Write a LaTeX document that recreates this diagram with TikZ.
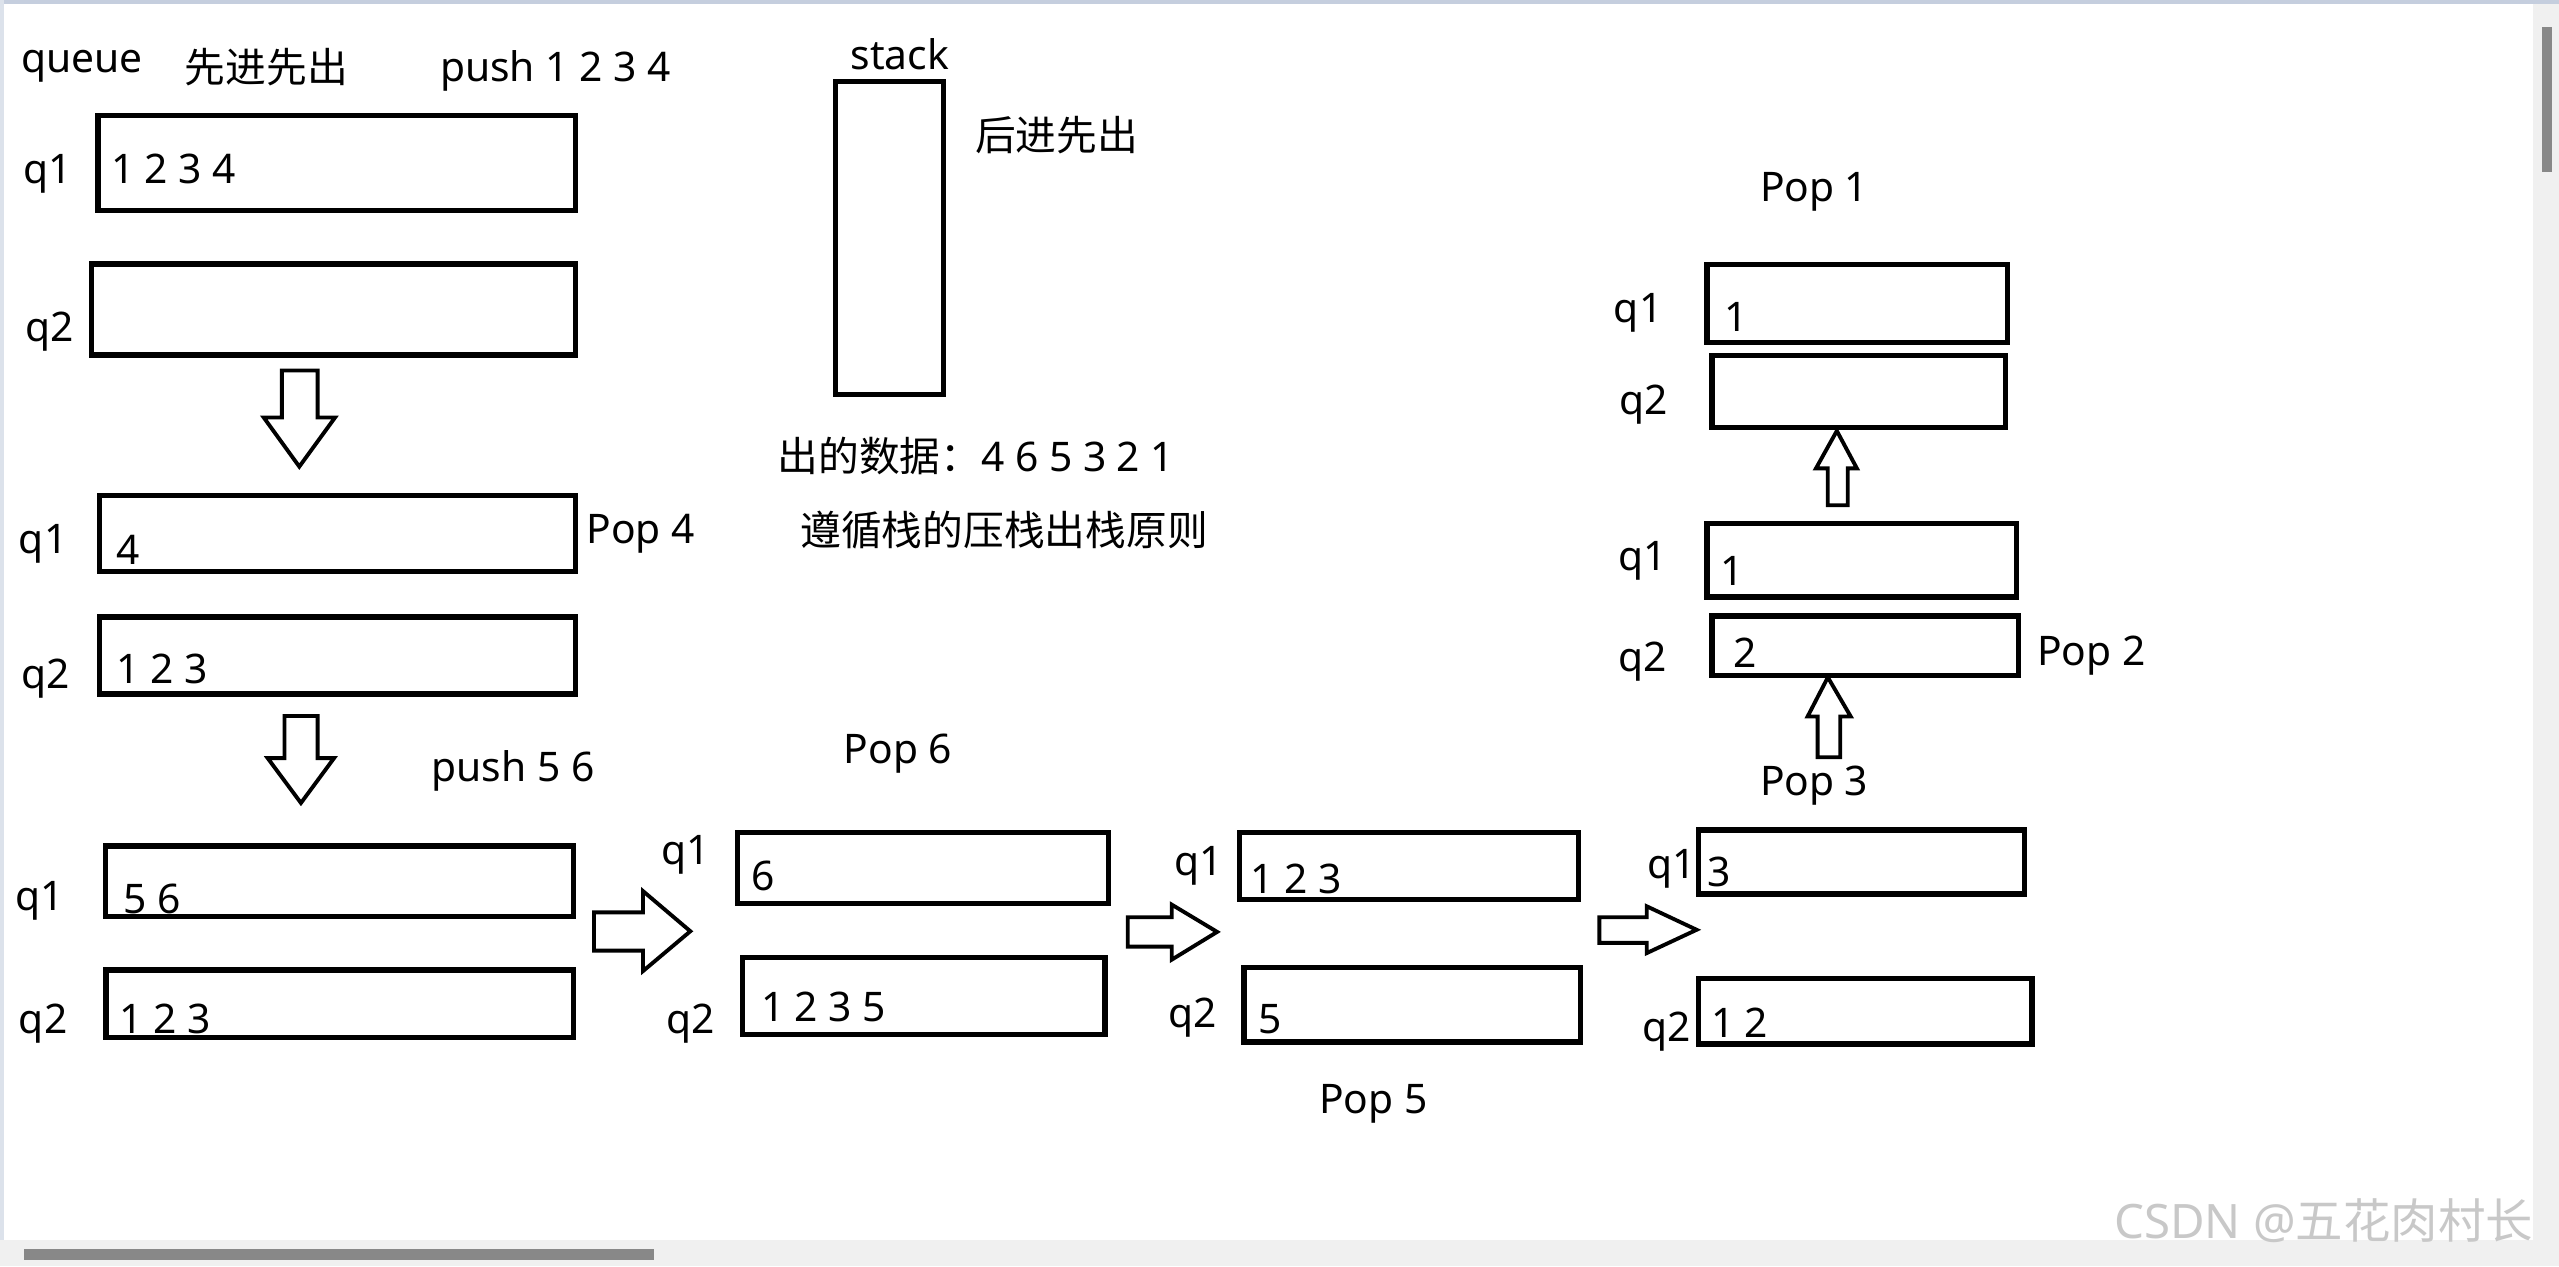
\documentclass[tikz,border=0pt]{standalone}
\usepackage{fontspec}
\setmainfont{Noto Sans}
\newfontfamily\cjk{Noto Sans CJK SC}
\usetikzlibrary{fit}
\definecolor{framegray}{HTML}{F0F0F0}
\definecolor{framebar}{HTML}{888888}
\definecolor{frameblue}{HTML}{C5CEDE}
\definecolor{markgray}{HTML}{C8C8C8}

\tikzset{
  qbox/.style={draw, line width=1.5pt, inner sep=0pt},
  lbl/.style={anchor=base west, inner sep=0pt, font=\fontsize{11.6pt}{13pt}\selectfont},
  fatarrow/.style={draw, line width=1.1pt, fill=white, line join=miter}
}

\begin{document}
\begin{tikzpicture}[x=0.01632cm, y=-0.01632cm]
  \useasboundingbox (0,0) rectangle (1568,776);
  \fill[white] (0,0) rectangle (1568,776);

  % window frame
  \fill[frameblue] (0,0) rectangle (1568,2.7);
  \fill[frameblue!60] (0,0) rectangle (2.5,760);
  \fill[framegray] (1552,2.7) rectangle (1568,760);
  \fill[framebar] (1557.6,16.4) rectangle (1563.8,105.3);
  \fill[framegray] (0,760) rectangle (1568,776);
  \fill[framebar] (15,765) rectangle (401,772);

  % headings
  \node[lbl] (queue) at (12.7,44.6) {queue};
  \node[lbl] (fifo) at (112.8,50.8) {\cjk 先进先出};
  \node[lbl] (push1) at (269.3,50) {push 1 2 3 4};
  \node[lbl] (stacklbl) at (520.8,42.3) {stack};
  \node[qbox, fit={(512,49.8)(578,241.5)}] (stack) {};
  \node[lbl] (lifo) at (597,92.5) {\cjk 后进先出};
  \node[lbl] (outdata) at (476,288.6) {{\cjk 出的数据：}4 6 5 3 2 1};
  \node[lbl] (rule) at (490,334.5) {\cjk 遵循栈的压栈出栈原则};

  % stage 1: push 1 2 3 4
  \node[qbox, fit={(60,70.6)(352.6,129)}] (s1q1) {};
  \node[qbox, fit={(55.9,161.7)(352.6,217.5)}] (s1q2) {};
  \node[lbl] (s1l1) at (14,112.7) {q1};
  \node[lbl] (s1l2) at (15,209) {q2};
  \node[lbl] (s1v1) at (67.6,112.7) {1 2 3 4};

  \draw[fatarrow] (172.7,227) -- (194.6,227) -- (194.6,255.8) -- (205.3,255.8)
    -- (183.4,285.9) -- (161.6,255.8) -- (172.7,255.8) -- cycle;

  % stage 2: pop 4
  \node[qbox, fit={(61,303.4)(352.6,350)}] (s2q1) {};
  \node[qbox, fit={(61,378)(352.6,425.3)}] (s2q2) {};
  \node[lbl] (s2l1) at (11.2,339) {q1};
  \node[lbl] (s2l2) at (12.7,422) {q2};
  \node[lbl] (s2v1) at (71.2,346) {4};
  \node[lbl] (s2v2) at (71.1,418.8) {1 2 3};
  \node[lbl] (pop4) at (359,333) {Pop 4};

  \draw[fatarrow] (174.3,438.7) -- (194.6,438.7) -- (194.6,464.5) -- (204.7,464.5)
    -- (184.4,492) -- (164,464.5) -- (174.3,464.5) -- cycle;
  \node[lbl] (push2) at (264,479) {push 5 6};

  % stage 3: push 5 6
  \node[qbox, fit={(64.5,518.4)(351.6,561.5)}] (s3q1) {};
  \node[qbox, fit={(65,594.3)(351.6,635.5)}] (s3q2) {};
  \node[lbl] (s3l1) at (9.2,557.7) {q1};
  \node[lbl] (s3l2) at (11.2,633) {q2};
  \node[lbl] (s3v1) at (75.2,559.6) {5 6};
  \node[lbl] (s3v2) at (72.7,633) {1 2 3};

  \draw[fatarrow] (364,559) -- (394,559) -- (394,546) -- (423,570.6)
    -- (394,595) -- (394,582.5) -- (364,582.5) -- cycle;

  % stage 4: pop 6
  \node[lbl] (pop6) at (516.7,468) {Pop 6};
  \node[qbox, fit={(452,510)(679.3,553.6)}] (s4q1) {};
  \node[qbox, fit={(455,586.7)(677,634)}] (s4q2) {};
  \node[lbl] (s4l1) at (405,530) {q1};
  \node[lbl] (s4l2) at (408,633) {q2};
  \node[lbl] (s4v1) at (459.8,545.6) {6};
  \node[lbl] (s4v2) at (465.9,625.8) {1 2 3 5};

  \draw[fatarrow] (691,562) -- (718,562) -- (718,554.3) -- (745.8,571)
    -- (718,588) -- (718,580) -- (691,580) -- cycle;

  % stage 5: pop 5
  \node[qbox, fit={(759.6,510)(967,551)}] (s5q1) {};
  \node[qbox, fit={(762.2,593)(968.6,638.5)}] (s5q2) {};
  \node[lbl] (s5l1) at (719,536.7) {q1};
  \node[lbl] (s5l2) at (715.4,629.4) {q2};
  \node[lbl] (s5v1) at (766,547.6) {1 2 3};
  \node[lbl] (s5v2) at (771,633) {5};
  \node[lbl] (pop5) at (807.8,682) {Pop 5};

  \draw[fatarrow] (980,562) -- (1009,562) -- (1009,555.3) -- (1039.6,569.7)
    -- (1009,584) -- (1009,577.7) -- (980,577.7) -- cycle;

  % stage 6: pop 3
  \node[qbox, fit={(1040.6,508.6)(1240.6,547.8)}] (s6q1) {};
  \node[qbox, fit={(1040.6,599.6)(1245,639.7)}] (s6q2) {};
  \node[lbl] (s6l1) at (1009,538) {q1};
  \node[lbl] (s6l2) at (1006,638) {q2};
  \node[lbl] (s6v1) at (1046,543) {3};
  \node[lbl] (s6v2) at (1048,635.5) {1 2};
  \node[lbl] (pop3) at (1078,487.4) {Pop 3};

  \draw[fatarrow] (1113.7,464) -- (1113.7,439) -- (1107.6,439) -- (1120,415)
    -- (1134,439) -- (1127.6,439) -- (1127.6,464) -- cycle;

  % stage 7: pop 2
  \node[qbox, fit={(1046,320.6)(1235.5,365.8)}] (s7q1) {};
  \node[qbox, fit={(1049,377.5)(1236.6,413.9)}] (s7q2) {};
  \node[lbl] (s7l1) at (991,349.6) {q1};
  \node[lbl] (s7l2) at (991,411.7) {q2};
  \node[lbl] (s7v1) at (1054,359) {1};
  \node[lbl] (s7v2) at (1061.6,409) {2};
  \node[lbl] (pop2) at (1247.8,407.6) {Pop 2};

  \draw[fatarrow] (1119.9,309.6) -- (1119.9,287) -- (1112.7,287) -- (1125.5,264)
    -- (1137.8,287) -- (1132.2,287) -- (1132.2,309.6) -- cycle;

  % stage 8: pop 1
  \node[lbl] (pop1) at (1078,123.6) {Pop 1};
  \node[qbox, fit={(1046,162)(1230,210)}] (s8q1) {};
  \node[qbox, fit={(1049,218)(1229,262)}] (s8q2) {};
  \node[lbl] (s8l1) at (988.5,197.5) {q1};
  \node[lbl] (s8l2) at (992,253.8) {q2};
  \node[lbl] (s8v1) at (1056,203) {1};

  % watermark
  \node[lbl, font=\fontsize{13.5pt}{16pt}\selectfont, text=markgray] (mark) at (1295,759)
    {CSDN @{\cjk 五花肉村长}};
\end{tikzpicture}
\end{document}
